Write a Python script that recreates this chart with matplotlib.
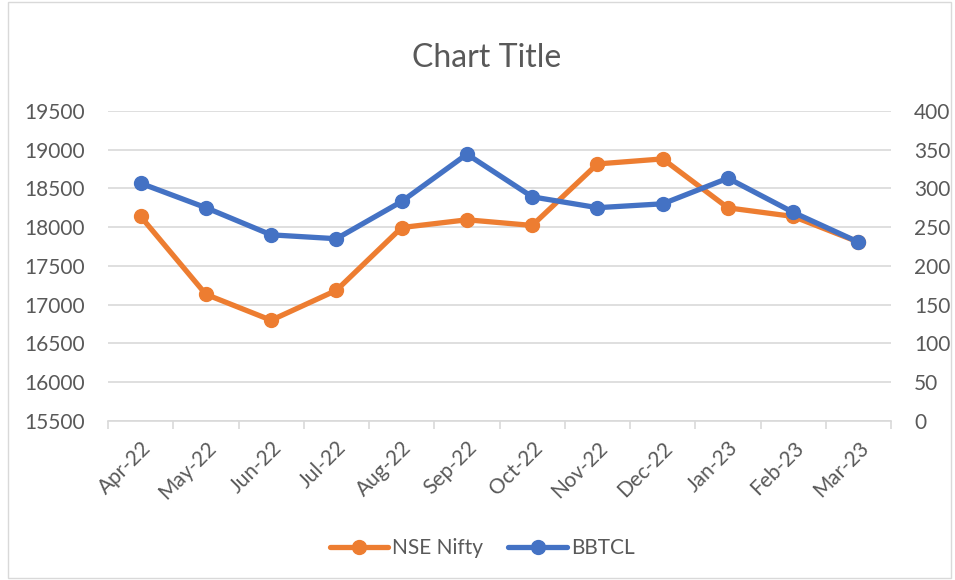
import matplotlib.pyplot as plt
from matplotlib.patches import Rectangle

plt.rcParams['font.family'] = ['Lato', 'DejaVu Sans']

months = ['Apr-22', 'May-22', 'Jun-22', 'Jul-22', 'Aug-22', 'Sep-22',
          'Oct-22', 'Nov-22', 'Dec-22', 'Jan-23', 'Feb-23', 'Mar-23']
nifty = [18137, 17133, 16799, 17185, 17994, 18094,
         18021, 18814, 18879, 18248, 18137, 17807]
bbtcl = [306.5, 275, 240, 235, 283, 344,
         289, 275, 280, 313, 269, 230.6]

left_ticks = list(range(15500, 20000, 500))
right_ticks = list(range(0, 450, 50))

orange = '#ED7D31'
blue = '#4472C4'
grey = '#595959'
grid = '#D9D9D9'

fig = plt.figure(figsize=(9.55, 5.8), dpi=100)
fig.patches.append(Rectangle((0.008, 0.004), 0.988, 0.992, transform=fig.transFigure,
                             fill=False, edgecolor='#D9D9D9', linewidth=1))
ax = fig.add_axes([0.1131, 0.2741, 0.82, 0.535])
ax2 = ax.twinx()

x = list(range(len(months)))
ax.plot(x, nifty, color=orange, lw=3.8, marker='o', ms=10, label='NSE Nifty',
        solid_capstyle='round', zorder=3)
ax2.plot(x, bbtcl, color=blue, lw=3.8, marker='o', ms=10, label='BBTCL',
         solid_capstyle='round', zorder=3)

ax.set_xlim(-0.5, len(months) - 0.5)
ax.set_ylim(15500, 19500)
ax2.set_ylim(0, 400)
ax.set_yticks(left_ticks)
ax2.set_yticks(right_ticks)

ax.set_xticks([i - 0.5 for i in range(len(months) + 1)], minor=False)
ax.set_xticklabels([])
ax.set_xticks(x, minor=True)
ax.set_xticklabels(months, minor=True, rotation=45, ha='right', rotation_mode='anchor',
                   fontsize=15, color=grey)
ax.tick_params(axis='x', which='major', length=6, color=grid, width=1.2)
ax.tick_params(axis='x', which='minor', length=0, pad=12)

ax.grid(axis='y', color=grid, lw=1.2)
ax.set_axisbelow(True)
for a in (ax, ax2):
    for s in a.spines.values():
        s.set_visible(False)
ax.spines['bottom'].set_visible(True)
ax.spines['bottom'].set_color(grid)
ax.spines['bottom'].set_linewidth(1.2)

ax.tick_params(axis='y', length=0, labelsize=15, labelcolor=grey, pad=16.5)
ax2.tick_params(axis='y', length=0, labelsize=15, labelcolor=grey, pad=16.5)

fig.text(0.51, 0.9, 'Chart Title', ha='center', va='center', fontsize=23, color=grey)

h1, l1 = ax.get_legend_handles_labels()
h2, l2 = ax2.get_legend_handles_labels()
fig.legend(h1 + h2, l1 + l2, loc='center', bbox_to_anchor=(0.505, 0.055), ncol=2,
           frameon=False, fontsize=15, labelcolor=grey, handlelength=2.8,
           handletextpad=0.2, columnspacing=1.2)

fig.savefig('out.png', dpi=100)
